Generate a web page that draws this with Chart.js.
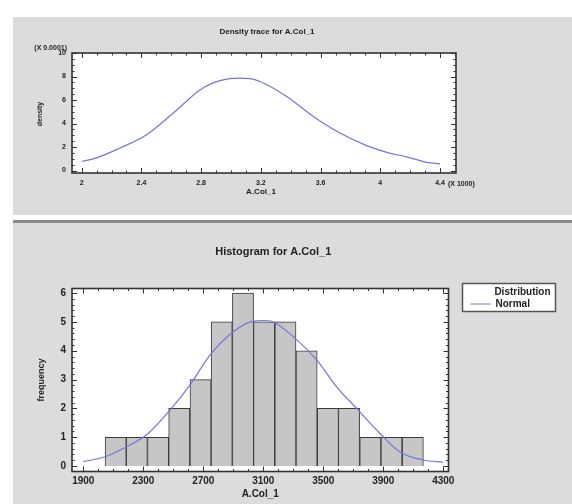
<!DOCTYPE html>
<html>
<head>
<meta charset="utf-8">
<script src="https://cdn.jsdelivr.net/npm/chart.js@4.4.1/dist/chart.umd.min.js"></script>
<style>
  body { margin: 0; background: #fff; width: 572px; height: 504px; overflow: hidden; position: relative; }
  #p1 { position: absolute; left: 13px; top: 17px; width: 559px; height: 198px; background: #dcdcdc; }
  #p2 { position: absolute; left: 13px; top: 220px; width: 559px; height: 281px; background: #dcdcdc; border-top: 3px solid #8a8a8a; }
  canvas { position: absolute; left: 0; top: 0; }
</style>
</head>
<body>
<div id="p1"><canvas id="c1" width="559" height="198"></canvas></div>
<div id="p2"><canvas id="c2" width="559" height="281"></canvas></div>
<script>
// Density trace (values x 0.0001)
const densityX = [2000, 2078, 2257, 2435, 2614, 2792, 2926, 3060, 3127, 3194, 3373, 3551, 3730, 3909, 4043, 4177, 4311, 4400];
const densityY = [0.79, 0.99, 1.92, 3.05, 4.89, 6.86, 7.65, 7.86, 7.82, 7.57, 6.3, 4.6, 3.19, 2.12, 1.55, 1.16, 0.70, 0.57];

// Histogram classes
const binCenters = [2116, 2257, 2399, 2540, 2682, 2823, 2965, 3106, 3248, 3389, 3531, 3672, 3814, 3955, 4097];
const binCounts = [1, 1, 1, 2, 3, 5, 6, 5, 5, 4, 2, 2, 1, 1, 1];

// Fitted normal
const normalX = [1900, 2045, 2189, 2333, 2478, 2611, 2745, 2900, 3033, 3100, 3167, 3300, 3456, 3589, 3733, 3878, 4011, 4167, 4300];
const normalY = [0.15, 0.32, 0.67, 1.13, 1.94, 2.81, 3.85, 4.66, 5.03, 5.05, 5.0, 4.49, 3.68, 2.75, 1.94, 1.13, 0.49, 0.21, 0.13];

// Axis ticks
const densXTicks = [2000, 2400, 2800, 3200, 3600, 4000, 4400];
const densYTicks = [0, 2, 4, 6, 8, 10];
const histXTicks = [1900, 2300, 2700, 3100, 3500, 3900, 4300];
const histYTicks = [0, 1, 2, 3, 4, 5, 6];

const CURVE = '#7474dc';
const INK = '#222';
const FONT = '"Liberation Sans", Arial, sans-serif';

// white plot area, framed box with inward ticks on all four sides, plus text
const decor = {
    id: 'decor',
    beforeDraw(chart) {
        const a = chart.chartArea, ctx = chart.ctx;
        ctx.save();
        ctx.fillStyle = '#fff';
        ctx.fillRect(a.left, a.top, a.right - a.left, a.bottom - a.top);
        ctx.restore();
    },
    afterDraw(chart, args, o) {
        const a = chart.chartArea, ctx = chart.ctx;
        const sx = chart.scales.x, sy = chart.scales.y;
        ctx.save();
        ctx.strokeStyle = '#333';
        ctx.lineWidth = 1;
        const tick = (v, len, isX) => {
            ctx.beginPath();
            if (isX) {
                const p = Math.round(sx.getPixelForValue(v)) + 0.5;
                ctx.moveTo(p, a.bottom); ctx.lineTo(p, a.bottom - len);
                ctx.moveTo(p, a.top); ctx.lineTo(p, a.top + len);
            } else {
                const p = Math.round(sy.getPixelForValue(v)) + 0.5;
                ctx.moveTo(a.left, p); ctx.lineTo(a.left + len, p);
                ctx.moveTo(a.right, p); ctx.lineTo(a.right - len, p);
            }
            ctx.stroke();
        };
        for (let v = o.xMinor[0]; v <= o.xMinor[1]; v += o.xMinor[2]) tick(v, 2.5, true);
        for (let v = o.yMinor[0]; v <= o.yMinor[1] + 1e-9; v += o.yMinor[2]) tick(v, 2.5, false);
        o.xTicks.forEach(v => tick(v, 5, true));
        o.yTicks.forEach(v => tick(v, 5, false));

        ctx.lineWidth = 1.6;
        ctx.strokeRect(a.left, a.top, a.right - a.left, a.bottom - a.top);

        ctx.fillStyle = INK;
        ctx.textBaseline = 'middle';
        const cx = (a.left + a.right) / 2;
        o.texts.forEach(t => {
            ctx.font = t.font + ' ' + FONT;
            ctx.textAlign = t.align || 'center';
            ctx.save();
            ctx.translate(t.x(a, cx), t.y(a));
            if (t.rot) ctx.rotate(-Math.PI / 2);
            ctx.fillText(t.text, 0, 0);
            ctx.restore();
        });

        if (o.legend) {
            const L = o.legend;
            const x0 = a.right + 14, y0 = a.top - 5, w = 93, h = 28;
            ctx.fillStyle = '#fff';
            ctx.fillRect(x0, y0, w, h);
            ctx.strokeStyle = '#555';
            ctx.lineWidth = 1.5;
            ctx.strokeRect(x0, y0, w, h);
            ctx.fillStyle = INK;
            ctx.font = 'bold 10px ' + FONT;
            ctx.textAlign = 'right';
            ctx.fillText(L.title, x0 + w - 5, y0 + 9);
            ctx.strokeStyle = CURVE;
            ctx.lineWidth = 1;
            ctx.beginPath();
            ctx.moveTo(x0 + 8, y0 + 20.5); ctx.lineTo(x0 + 28, y0 + 20.5);
            ctx.stroke();
            ctx.textAlign = 'left';
            ctx.fillText(L.item, x0 + 33, y0 + 20.5);
        }
        ctx.restore();
    }
};

function axis(min, max, ticks, fit, fmt, font, pad) {
    return {
        type: 'linear', min: min, max: max,
        grid: { display: false, drawTicks: false, tickLength: 0 }, border: { display: false },
        afterBuildTicks: s => { s.ticks = ticks.map(v => ({ value: v })); },
        afterFit: fit,
        ticks: { color: INK, font: { family: FONT, size: font, weight: 'bold' }, padding: pad,
                 maxRotation: 0, autoSkip: false, callback: fmt }
    };
}

new Chart(document.getElementById('c1'), {
    type: 'line',
    data: {
        datasets: [{
            data: densityX.map((x, i) => ({ x: x, y: densityY[i] })),
            borderColor: CURVE, borderWidth: 1.2, pointRadius: 0,
            cubicInterpolationMode: 'monotone'
        }]
    },
    options: {
        responsive: false, animation: false, devicePixelRatio: 1,
        layout: { padding: { top: 36, right: 116, bottom: 0, left: 0 } },
        scales: {
            x: axis(1935, 4507, densXTicks, s => { s.height = 42; }, v => String(v / 1000), 7, 6),
            y: axis(-0.21, 10, densYTicks, s => { s.width = 59; }, v => String(v), 7, 6)
        },
        plugins: {
            legend: { display: false }, tooltip: { enabled: false },
            decor: {
                xTicks: densXTicks, yTicks: densYTicks,
                xMinor: [2000, 4500, 100], yMinor: [0, 10, 0.5],
                texts: [
                    { text: 'Density trace for A.Col_1', font: 'bold 8px', x: (a, c) => c + 3, y: a => a.top - 21 },
                    { text: '(X 0.0001)', font: 'bold 7px', align: 'right', x: a => a.left - 5, y: a => a.top - 5 },
                    { text: '(X 1000)', font: 'bold 7px', align: 'left', x: a => a.right - 8, y: a => a.bottom + 11 },
                    { text: 'A.Col_1', font: 'bold 8px', x: (a, c) => c - 3, y: a => a.bottom + 18.5 },
                    { text: 'density', font: 'bold 7px', rot: true, x: a => a.left - 32, y: a => (a.top + a.bottom) / 2 + 1 }
                ]
            }
        }
    },
    plugins: [decor]
});

new Chart(document.getElementById('c2'), {
    data: {
        datasets: [{
            type: 'bar',
            data: binCenters.map((x, i) => ({ x: x, y: binCounts[i] })),
            backgroundColor: '#c6c6c6', borderColor: '#3a3a3a', borderWidth: 1,
            barPercentage: 1, categoryPercentage: 1, order: 2
        }, {
            type: 'line',
            data: normalX.map((x, i) => ({ x: x, y: normalY[i] })),
            borderColor: CURVE, borderWidth: 1.2, pointRadius: 0,
            cubicInterpolationMode: 'monotone', order: 1
        }]
    },
    options: {
        responsive: false, animation: false, devicePixelRatio: 1,
        layout: { padding: { top: 65.5, right: 123.5, bottom: 0, left: 0 } },
        scales: {
            x: Object.assign(axis(1825, 4335, histXTicks, s => { s.height = 32.5; }, v => String(v), 10, 4), { offset: false }),
            y: axis(-0.19, 6.16, histYTicks, s => { s.width = 59; }, v => String(v), 10, 6)
        },
        plugins: {
            legend: { display: false }, tooltip: { enabled: false },
            decor: {
                xTicks: histXTicks, yTicks: histYTicks,
                xMinor: [1900, 4300, 100], yMinor: [0, 6, 0.2],
                texts: [
                    { text: 'Histogram for A.Col_1', font: 'bold 11px', x: (a, c) => c + 13, y: a => a.top - 37 },
                    { text: 'A.Col_1', font: 'bold 10px', x: (a, c) => c, y: a => a.bottom + 23 },
                    { text: 'frequency', font: 'bold 9px', rot: true, x: a => a.left - 30, y: a => (a.top + a.bottom) / 2 }
                ],
                legend: { title: 'Distribution', item: 'Normal' }
            }
        }
    },
    plugins: [decor]
});
</script>
</body>
</html>
